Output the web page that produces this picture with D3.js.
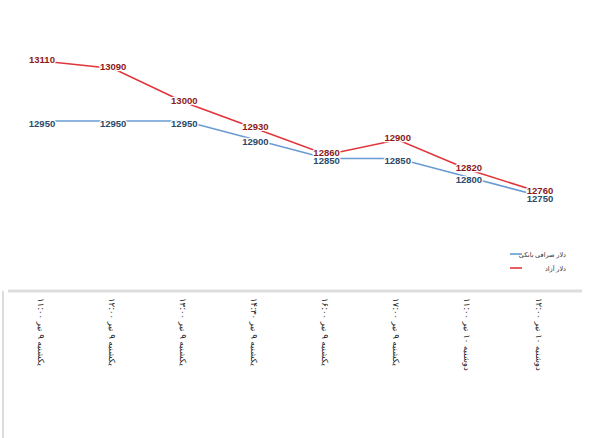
<!DOCTYPE html><html><head><meta charset="utf-8"><script src="https://cdn.jsdelivr.net/npm/d3@7"></script>
<style>body{margin:0;background:#fff}</style></head><body><svg id="c" width="600" height="438"></svg>
<script>
const categories=["یکشنبه ۹ تیر ۱۱:۰۰","یکشنبه ۹ تیر ۱۲:۰۰","یکشنبه ۹ تیر ۱۳:۰۰","یکشنبه ۹ تیر ۱۴:۳۰","یکشنبه ۹ تیر ۱۶:۰۰","یکشنبه ۹ تیر ۱۷:۰۰","دوشنبه ۱۰ تیر ۱۱:۰۰","دوشنبه ۱۰ تیر ۱۲:۰۰"];
const bankDollar=[12950,12950,12950,12900,12850,12850,12800,12750];
const freeDollar=[13110,13090,13000,12930,12860,12900,12820,12760];
const seriesNames=["دلار صرافی بانکی","دلار آزاد"];
const svg=d3.select("#c");
const x=d3.scalePoint().domain(categories).range([42,540]);
const y=d3.scaleLinear().domain([12750,13110]).range([196,61]);
svg.append("line").attr("x1",8).attr("x2",582).attr("y1",291).attr("y2",291).attr("stroke","#ddd").attr("stroke-width",3);
svg.append("line").attr("x1",3).attr("x2",3).attr("y1",291).attr("y2",438).attr("stroke","#ddd").attr("stroke-width",2);
const series=[{v:bankDollar,c:"#6a9ad2",t:"#2a4a6a",n:seriesNames[0],o:2},{v:freeDollar,c:"#e0353a",t:"#8b1a1a",n:seriesNames[1],o:-2}];
const line=d3.line().x((d,i)=>x(categories[i])).y(d=>y(d));
series.forEach(s=>{
  svg.append("path").attr("d",line(s.v)).attr("fill","none").attr("stroke",s.c).attr("stroke-width",1.6);
});
series.forEach(s=>{
  svg.selectAll(null).data(s.v).enter().append("text")
   .attr("x",(d,i)=>x(categories[i])).attr("y",d=>y(d)+3.5+s.o)
   .attr("text-anchor","middle").attr("font-family","Liberation Sans, Arial").attr("font-size",9.5).attr("font-weight","bold")
   .attr("fill",s.t).attr("stroke","#fff").attr("stroke-width",2.5).attr("paint-order","stroke").text(d=>d);
});
series.forEach((s,i)=>{
  const ly=254+i*14;
  svg.append("line").attr("x1",510).attr("x2",522).attr("y1",ly).attr("y2",ly).attr("stroke",s.c).attr("stroke-width",1.6);
  svg.append("text").attr("x",566).attr("y",ly+2.5).attr("text-anchor","start").attr("direction","rtl").attr("font-family","Noto Sans, DejaVu Sans").attr("font-size",6.5).attr("fill","#333").text(s.n);
});
categories.forEach(c=>{
  svg.append("text").attr("transform",`translate(${x(c)-2},298) rotate(90)`).attr("text-anchor","start")
   .attr("font-family","DejaVu Sans").attr("font-size",8.5).attr("fill","#222")
   .attr("dominant-baseline","middle").text(c);
});
</script></body></html>
